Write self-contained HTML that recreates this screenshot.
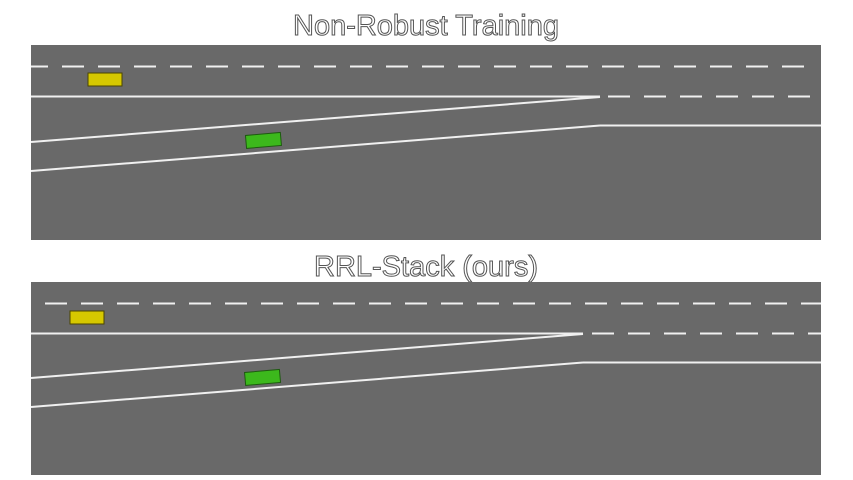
<!DOCTYPE html>
<html><head><meta charset="utf-8"><style>
html,body{margin:0;padding:0;background:#fff;width:853px;height:480px;overflow:hidden}
svg{display:block}
.t{font-family:"Liberation Sans",sans-serif;font-size:29px;fill:#fff;stroke:#555;stroke-width:1;text-anchor:middle}
</style></head><body>
<svg width="853" height="480">
<text class="t" x="426" y="35">Non-Robust Training</text>
<g>
<rect x="31" y="45" width="790" height="195" fill="#696969"/>
<line x1="31" y1="66.5" x2="815" y2="66.5" stroke="#f0f0f0" stroke-width="2" stroke-dasharray="22 14" stroke-dashoffset="5"/>
<line x1="31" y1="96.5" x2="600" y2="96.5" stroke="#f0f0f0" stroke-width="2"/>
<line x1="608" y1="96.5" x2="815" y2="96.5" stroke="#f0f0f0" stroke-width="2" stroke-dasharray="22 14"/>
<line x1="31" y1="142" x2="600" y2="97" stroke="#f0f0f0" stroke-width="2"/>
<line x1="31" y1="171" x2="600" y2="125.5" stroke="#f0f0f0" stroke-width="2"/>
<line x1="600" y1="125.5" x2="821" y2="125.5" stroke="#f0f0f0" stroke-width="2"/>
<rect x="88" y="73" width="34" height="13" fill="#d6c800" stroke="#4a4500"/>
<rect x="246" y="134" width="35" height="13" fill="#3cb81c" stroke="#1e5a10" transform="rotate(-5 263 141)"/>
</g>
<text class="t" x="426" y="276">RRL-Stack (ours)</text>
<g>
<rect x="31" y="282" width="790" height="193" fill="#696969"/>
<line x1="45" y1="303.5" x2="821" y2="303.5" stroke="#f0f0f0" stroke-width="2" stroke-dasharray="22 14"/>
<line x1="31" y1="333.5" x2="583" y2="333.5" stroke="#f0f0f0" stroke-width="2"/>
<line x1="592" y1="333.5" x2="821" y2="333.5" stroke="#f0f0f0" stroke-width="2" stroke-dasharray="22 14"/>
<line x1="31" y1="378" x2="583" y2="334" stroke="#f0f0f0" stroke-width="2"/>
<line x1="31" y1="407" x2="583" y2="362.5" stroke="#f0f0f0" stroke-width="2"/>
<line x1="583" y1="362.5" x2="821" y2="362.5" stroke="#f0f0f0" stroke-width="2"/>
<rect x="70" y="311" width="34" height="13" fill="#d6c800" stroke="#4a4500"/>
<rect x="245" y="371" width="35" height="13" fill="#3cb81c" stroke="#1e5a10" transform="rotate(-5 262 377)"/>
</g>
</svg>
</body></html>
